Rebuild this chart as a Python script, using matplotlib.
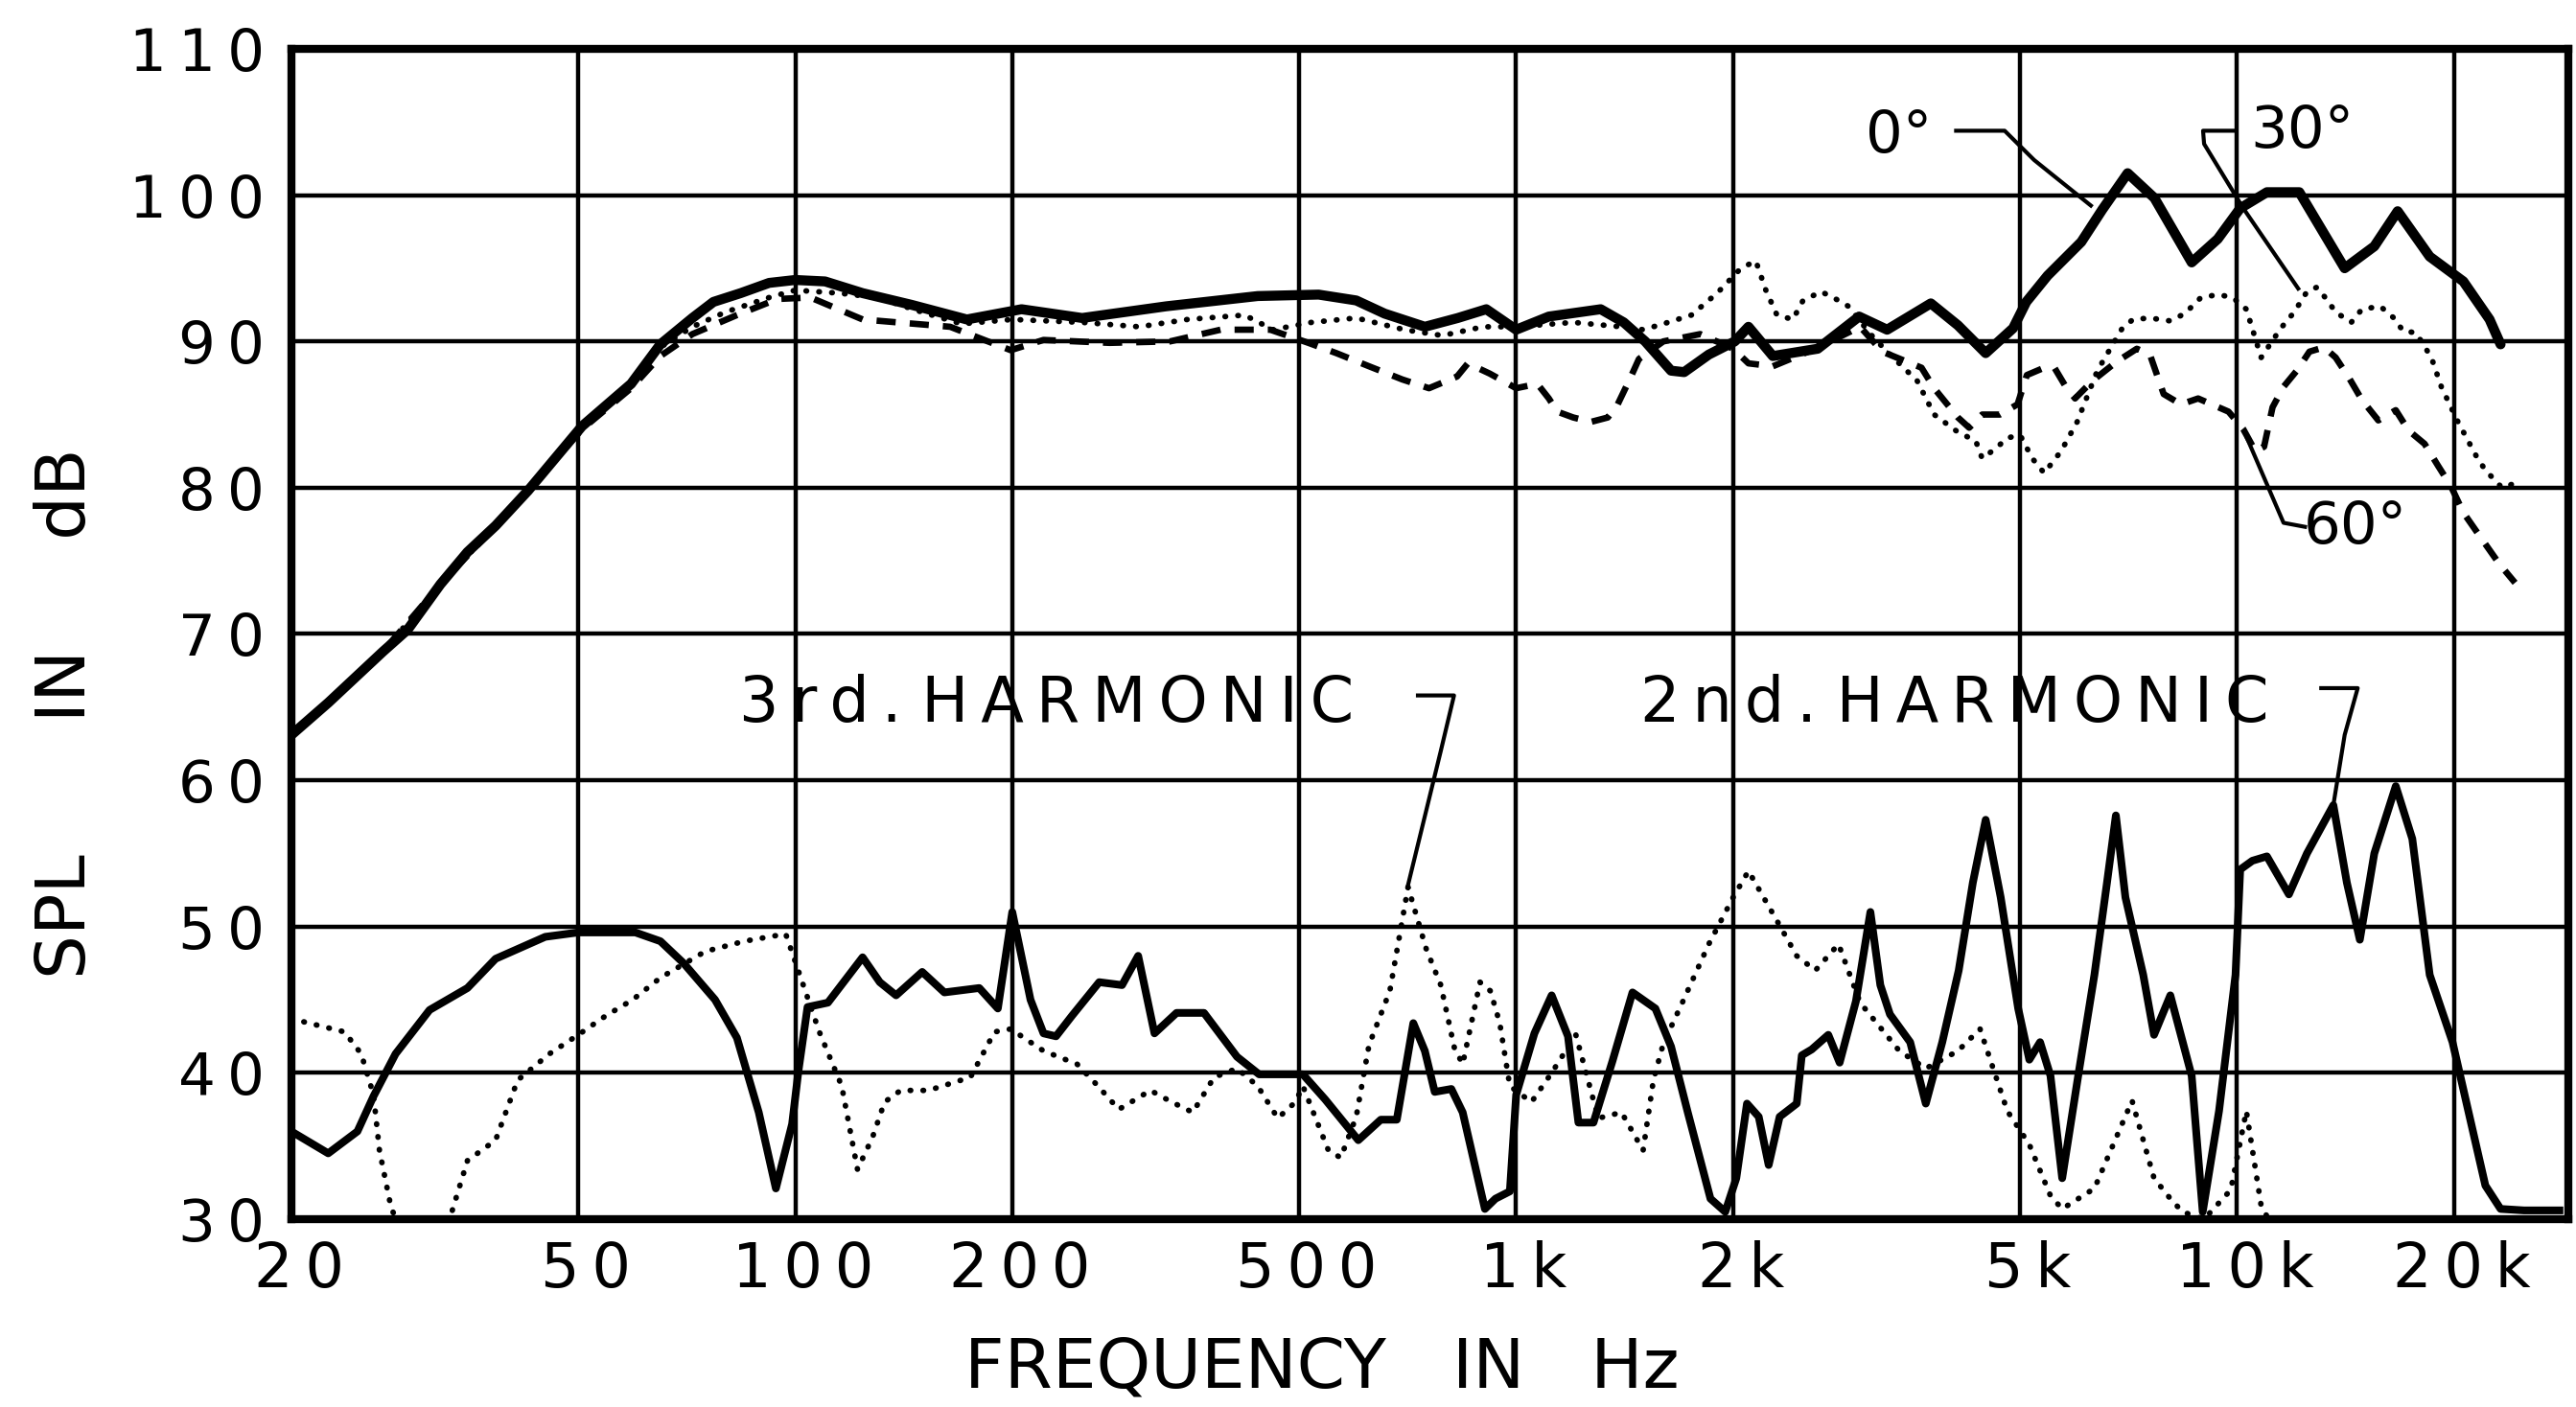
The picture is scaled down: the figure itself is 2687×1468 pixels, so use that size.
import matplotlib
matplotlib.use("Agg")
import matplotlib.pyplot as plt
import matplotlib.transforms as mtransforms
from matplotlib.ticker import FixedLocator, NullLocator

plt.rcParams["font.family"] = ["DejaVu Sans"]

# ---- axis setup values ----
tick_freqs = [20, 50, 100, 200, 500, 1000, 2000, 5000, 10000, 20000]
tick_labels = ["20", "50", "100", "200", "500", "1k", "2k", "5k", "10k", "20k"]
db_ticks = [30, 40, 50, 60, 70, 80, 90, 100, 110]

# ---- 0 deg on-axis response (thick solid) ----
f_0deg = [20, 22.5, 26.8, 29, 32.2, 35.1, 38.4, 42.6, 50.6, 59.2, 65, 72, 77, 84, 92, 100,
          110, 124, 145, 173, 206, 250, 327, 438, 532, 600, 657, 747, 830, 909, 1000, 1110,
          1310, 1410, 1510, 1640, 1710, 1850, 2010, 2100, 2270, 2620, 2990, 3270, 3760,
          4100, 4480, 4890, 5100, 5460, 6080, 6500, 7050, 7680, 8650, 9400, 10100, 11000,
          12200, 14100, 15500, 16700, 18500, 20600, 22400, 23200]
db_0deg = [63.1, 65.3, 68.8, 70.3, 73.4, 75.6, 77.4, 79.8, 84.2, 87.1, 89.8, 91.6, 92.7, 93.3,
           94.0, 94.2, 94.1, 93.3, 92.5, 91.5, 92.2, 91.6, 92.4, 93.1, 93.2, 92.8, 91.9, 91.0,
           91.6, 92.2, 90.8, 91.7, 92.2, 91.3, 90.0, 88.0, 87.9, 89.1, 90.0, 91.0, 89.0, 89.5,
           91.7, 90.8, 92.6, 91.1, 89.2, 90.9, 92.7, 94.5, 96.8, 99.0, 101.5, 99.8, 95.4, 97.0,
           99.1, 100.2, 100.2, 95.0, 96.5, 98.9, 95.8, 94.1, 91.5, 89.8]

# ---- 30 deg off-axis (dotted) ----
f_30deg = [20, 26.8, 32.2, 38.4, 42.6, 50.6, 59.2, 65, 72, 80, 92, 100, 115, 130, 150, 170,
           200, 250, 300, 350, 420, 460, 520, 600, 700, 790, 900, 1000, 1200, 1400, 1500,
           1600, 1750, 1900, 2050, 2150, 2220, 2300, 2420, 2500, 2650, 2800, 2890, 3100,
           3270, 3600, 3800, 4100, 4340, 4430, 4630, 4800, 5000, 5200, 5400, 5700, 6000,
           6400, 6930, 7170, 7570, 8080, 8460, 8910, 9420, 9860, 10300, 10800, 11500, 12000,
           12500, 12900, 13300, 13700, 14400, 14900, 15800, 16500, 17000, 17700, 18600,
           19200, 20200, 21500, 22100, 23300, 24300]
db_30deg = [63.1, 68.8, 73.4, 77.4, 79.8, 84.2, 87.1, 89.6, 91.0, 92.0, 93.0, 93.5, 93.3, 93.0,
            92.0, 91.2, 91.5, 91.3, 91.0, 91.5, 91.8, 90.8, 91.3, 91.6, 90.8, 90.4, 91.0, 91.0,
            91.3, 91.0, 90.8, 91.2, 91.8, 93.3, 95.0, 95.5, 93.5, 91.8, 91.5, 92.8, 93.4, 92.8,
            92.4, 90.5, 89.3, 87.3, 85.0, 83.8, 83.2, 82.0, 82.7, 83.4, 83.6, 82.0, 81.0, 82.5,
            84.5, 88.0, 90.9, 91.5, 91.6, 91.4, 91.9, 93.0, 93.2, 93.0, 92.2, 88.9, 90.9, 92.0,
            93.4, 93.7, 92.9, 92.0, 91.3, 92.2, 92.4, 91.6, 90.7, 90.6, 88.9, 86.9, 84.6, 82.1,
            81.2, 80.0, 80.3]

# ---- 60 deg off-axis (dashed) ----
f_60deg = [20, 26.8, 32.2, 38.4, 42.6, 50.6, 59.2, 65, 72, 83, 94.5, 105, 124, 164, 199, 221,
           273, 331, 389, 456, 515, 563, 625, 695, 757, 828, 857, 919, 1000, 1070, 1110, 1140,
           1200, 1270, 1340, 1380, 1440, 1480, 1600, 1800, 2000, 2100, 2270, 2600, 3000, 3220,
           3650, 3800, 4100, 4250, 4430, 4690, 4960, 5110, 5400, 5580, 5770, 5960, 6300, 6800,
           7260, 7570, 7910, 8360, 8830, 9420, 9730, 10200, 10600, 10900, 11200, 11600, 12100,
           12600, 13200, 13700, 14300, 14900, 15700, 16600, 17300, 18200, 19000, 19800,
           20600, 21700, 23100, 24300]
db_60deg = [63.1, 68.8, 73.4, 77.4, 79.8, 84.0, 86.8, 89.0, 90.5, 91.8, 92.9, 93.0, 91.5, 91.0,
            89.4, 90.1, 89.9, 90.0, 90.8, 90.8, 89.9, 89.2, 88.3, 87.4, 86.8, 87.6, 88.5, 87.8,
            86.8, 87.1, 86.1, 85.2, 84.8, 84.5, 84.8, 85.6, 87.5, 88.8, 90.0, 90.5, 89.5, 88.5,
            88.3, 89.5, 91.0, 89.3, 88.2, 86.8, 84.8, 84.1, 85.0, 85.0, 85.7, 87.7, 88.2, 88.2,
            87.0, 86.1, 87.3, 88.6, 89.5, 89.1, 86.4, 85.7, 86.1, 85.5, 85.2, 84.0, 82.5, 82.8,
            85.5, 86.9, 88.0, 89.3, 89.6, 88.9, 87.5, 86.0, 84.6, 85.3, 83.9, 83.0, 81.5, 80.1,
            78.3, 76.7, 74.8, 73.5]

# ---- 2nd harmonic distortion (solid) ----
f_h2 = [20, 22.5, 24.7, 26, 27.9, 31.1, 35.1, 38.4, 45, 50, 60, 65, 70, 77.4, 83, 89, 94, 99,
        101, 104, 111, 124, 131, 138, 150, 161, 180, 191, 200, 212, 221, 230, 242, 264, 284,
        299, 315, 338, 369, 410, 440, 506, 543, 604, 649, 683, 720, 747, 771, 813, 843, 905,
        936, 980, 1000, 1060, 1120, 1180, 1220, 1280, 1360, 1450, 1560, 1640, 1730, 1860,
        1950, 2020, 2090, 2170, 2240, 2320, 2450, 2490, 2570, 2710, 2810, 2960, 3100, 3200,
        3300, 3520, 3700, 3900, 4110, 4300, 4480, 4700, 4970, 5150, 5330, 5510, 5720, 6020,
        6340, 6600, 6790, 7000, 7410, 7670, 8080, 8650, 8960, 9440, 9950, 10100, 10500,
        11000, 11800, 12500, 13600, 14200, 14800, 15500, 16600, 17500, 18500, 19900, 22100,
        23200, 25000, 28000]
db_h2 = [36.0, 34.5, 36.0, 38.4, 41.3, 44.3, 45.8, 47.8, 49.3, 49.6, 49.6, 49.0, 47.5, 45.0,
         42.4, 37.3, 32.1, 36.5, 40.1, 44.5, 44.8, 47.9, 46.2, 45.3, 46.9, 45.5, 45.8, 44.4,
         51.0, 45.0, 42.7, 42.5, 43.9, 46.2, 46.0, 48.0, 42.7, 44.1, 44.1, 41.1, 39.9, 39.9,
         38.2, 35.4, 36.8, 36.8, 43.4, 41.5, 38.7, 38.9, 37.3, 30.7, 31.4, 31.9, 38.5, 42.7,
         45.3, 42.5, 36.6, 36.6, 40.8, 45.5, 44.4, 41.8, 37.3, 31.4, 30.5, 32.8, 37.9, 37.0,
         33.7, 37.0, 37.9, 41.2, 41.6, 42.6, 40.7, 44.9, 51.0, 46.0, 44.0, 42.1, 37.9, 42.1,
         47.0, 53.0, 57.3, 52.0, 44.4, 40.9, 42.1, 39.8, 32.8, 39.8, 46.7, 53.0, 57.6, 52.0,
         46.7, 42.6, 45.3, 39.8, 30.5, 37.4, 46.7, 53.9, 54.5, 54.8, 52.2, 55.0, 58.3, 53.0,
         49.1, 55.0, 59.6, 56.0, 46.7, 42.1, 32.3, 30.7, 30.6, 30.6]

# ---- 3rd harmonic distortion (dotted) ----
f_h3 = [20, 23.7, 25, 26, 26.5, 27.5, 28.5, 31, 33.3, 35.1, 38.4, 41.2, 45.6, 50, 54.6, 59.5,
        65, 75, 85, 97, 108, 116, 122, 128, 133, 140, 153, 175, 189, 199, 221, 246, 263, 281,
        311, 333, 356, 381, 410, 438, 467, 494, 506, 549, 571, 600, 625, 668, 708, 750, 786,
        821, 843, 891, 921, 949, 980, 1050, 1120, 1210, 1300, 1400, 1500, 1550, 1600, 1700,
        1850, 2000, 2100, 2300, 2450, 2600, 2800, 3000, 3400, 3700, 4100, 4400, 4800, 5150,
        5510, 5720, 6340, 7150, 7670, 8080, 8400, 9000, 9800, 10300, 10800, 11200]
db_h3 = [43.7, 42.8, 41.3, 38.5, 34.7, 30.8, 29.0, 28.5, 30.3, 34.0, 35.4, 39.5, 41.3, 42.6,
         43.9, 45.0, 46.5, 48.3, 49.0, 49.5, 42.8, 39.1, 33.4, 35.6, 38.0, 38.8, 38.8, 39.7,
         42.8, 43.0, 41.5, 40.6, 39.1, 37.5, 38.8, 38.0, 37.3, 39.7, 40.3, 39.1, 36.9, 38.0,
         39.1, 34.7, 34.2, 37.0, 41.9, 45.6, 52.7, 48.5, 46.0, 41.7, 40.6, 46.2, 45.6, 43.4,
         39.1, 38.0, 40.0, 42.6, 36.9, 37.3, 34.7, 39.5, 42.0, 44.8, 48.8, 52.0, 53.8, 50.4,
         48.0, 47.0, 48.8, 44.8, 41.5, 40.3, 41.5, 43.0, 37.4, 35.1, 31.6, 30.7, 32.1, 38.1,
         32.8, 31.4, 30.5, 30.0, 32.0, 37.4, 30.9, 29.5]

THIN = "\u2009"


def spaced(s):
    # stencil lettering is wider than DejaVu, pad letters with thin spaces
    out = []
    for a, b in zip(s, s[1:] + " "):
        out.append(a)
        if a != " " and b != " ":
            out.append(THIN)
    return "".join(out).rstrip(THIN)


def main():
    fig = plt.figure(figsize=(26.87, 14.68), dpi=100)
    ax = fig.add_axes([0.1131, 0.1335, 0.8839, 0.8318])
    ax.set_xscale("log")
    ax.set_xlim(20, 28800)
    ax.set_ylim(30, 110)

    ax.xaxis.set_major_locator(FixedLocator(tick_freqs))
    ax.xaxis.set_minor_locator(NullLocator())
    ax.set_xticklabels([spaced(t) for t in tick_labels])
    ax.set_yticks(db_ticks)
    ax.set_yticklabels([spaced(str(v)) for v in db_ticks])
    ax.tick_params(axis="x", length=0, labelsize=46, pad=16)
    ax.tick_params(axis="y", length=0, labelsize=44, pad=20)
    # hand lettered labels sit a little right of the grid lines
    shift = mtransforms.ScaledTranslation(8 / 100, 0, fig.dpi_scale_trans)
    for lab in ax.get_xticklabels():
        lab.set_transform(lab.get_transform() + shift)

    ax.set_axisbelow(True)
    ax.grid(True, color="black", lw=3.2)
    for s in ax.spines.values():
        s.set_linewidth(6)

    # response curves
    ax.plot(f_0deg, db_0deg, color="black", lw=7.5, solid_capstyle="round", zorder=5)
    ax.plot(f_30deg, db_30deg, color="black", lw=4.2, linestyle=(0, (0.1, 2.2)),
            dash_capstyle="round", zorder=4)
    ax.plot(f_60deg, db_60deg, color="black", lw=4.8, linestyle=(0, (3, 2.2)), zorder=4)
    ax.plot(f_h2, db_h2, color="black", lw=5.8, solid_joinstyle="round", zorder=5)
    ax.plot(f_h3, db_h3, color="black", lw=4.2, linestyle=(0, (0.1, 2.2)),
            dash_capstyle="round", zorder=4)

    # callouts
    txt = dict(color="black", ha="center", va="center", zorder=6)
    lead = dict(color="black", lw=3, zorder=6, solid_capstyle="butt")
    ax.text(3400, 104.0, "0°", fontsize=44, **txt)
    ax.plot([4050, 4760, 5230, 5510, 6300], [104.4, 104.4, 102.4, 101.5, 99.2], **lead)
    ax.text(12300, 104.3, "30°", fontsize=44, **txt)
    ax.plot([9950, 8970, 9000, 10200, 12200], [104.4, 104.4, 103.5, 99.1, 93.5], **lead)
    ax.text(14600, 77.3, "60°", fontsize=44, **txt)
    ax.plot([10300, 11600, 12500], [83.5, 77.6, 77.3], **lead)

    ax.text(223, 65.2, spaced("3rd. HARMONIC"), fontsize=47, **txt)
    ax.plot([726, 820, 786, 706], [65.8, 65.8, 62.0, 52.6], **lead)
    ax.text(4050, 65.2, spaced("2nd. HARMONIC"), fontsize=47, **txt)
    ax.plot([13000, 14700, 14100, 13600], [66.3, 66.3, 63.1, 58.3], **lead)

    ax.set_xlabel("FREQUENCY   IN   Hz", fontsize=52)
    ax.xaxis.set_label_coords(0.4526, -0.128)
    ax.xaxis.label.set_va("center")
    ax.set_ylabel("SPL      IN     dB", fontsize=52)
    ax.yaxis.set_label_coords(-0.0985, 0.432)
    ax.yaxis.label.set_va("center")

    fig.savefig("out.png", dpi=100)
    plt.close(fig)


if __name__ == "__main__":
    main()
